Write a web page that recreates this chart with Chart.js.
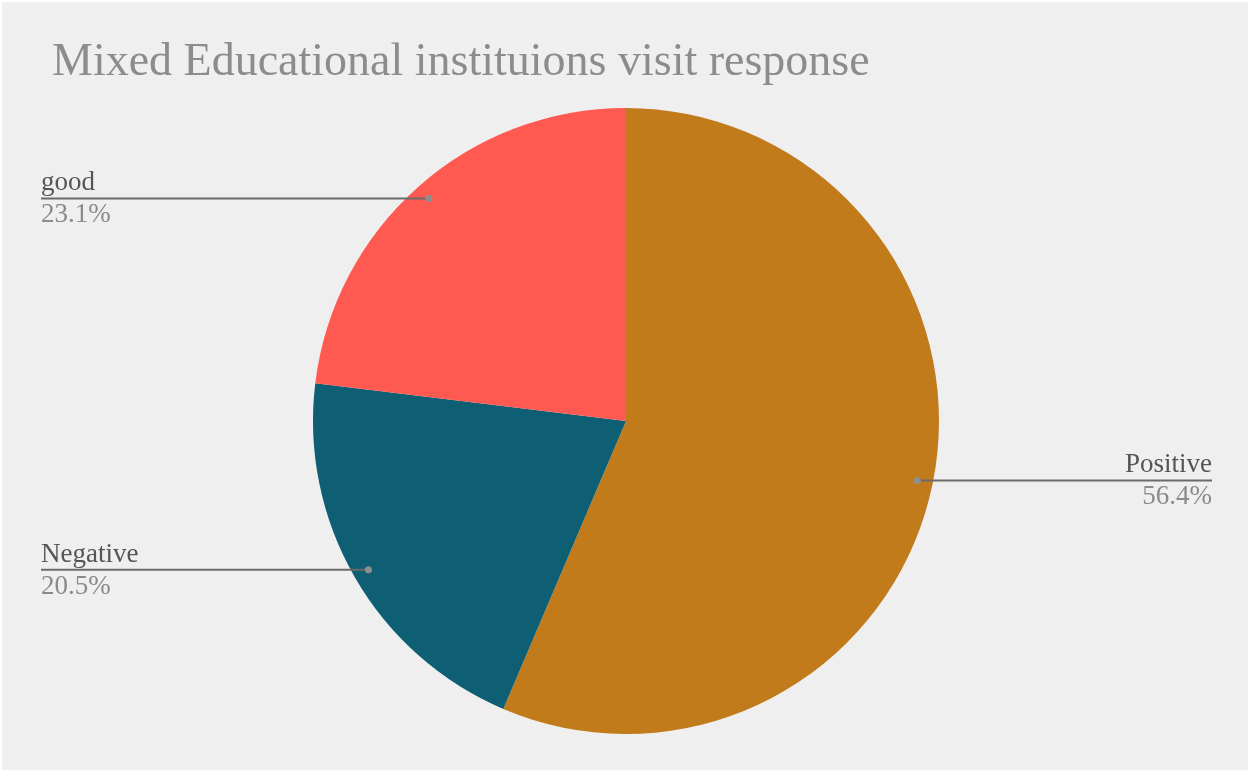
<!DOCTYPE html>
<html>
<head>
<meta charset="utf-8">
<script src="https://cdn.jsdelivr.net/npm/chart.js@4"></script>
<style>
  html, body { margin: 0; padding: 0; background: #ffffff; }
  #wrap { width: 1250px; height: 773px; position: relative; }
</style>
</head>
<body>
<div id="wrap"><canvas id="myChart" width="1250" height="773"></canvas></div>
<script>
  const chartTitle = 'Mixed Educational instituions visit response';
  const labels = ['Positive', 'Negative', 'good'];
  const counts = [22, 8, 9];
  const colors = ['#c27b1b', '#0e5f73', '#fe5a52'];

  const total = counts.reduce((a, b) => a + b, 0);

  // background, title and the leader-line labels
  const decor = {
    id: 'decor',
    beforeDraw(chart) {
      const c = chart.ctx;
      c.save();
      c.fillStyle = '#efefef';
      c.fillRect(2, 2, chart.width - 4, chart.height - 5);
      c.fillStyle = '#8c8c8c';
      c.font = '46px "Liberation Serif", serif';
      c.textBaseline = 'alphabetic';
      c.fillText(chartTitle, 52, 75);
      c.restore();
    },
    afterDatasetsDraw(chart) {
      const c = chart.ctx;
      const arcs = chart.getDatasetMeta(0).data;
      c.save();
      arcs.forEach((arc, i) => {
        const mid = (arc.startAngle + arc.endAngle) / 2;
        const r = arc.outerRadius * 0.95;
        const px = arc.x + Math.cos(mid) * r;
        const py = arc.y + Math.sin(mid) * r;
        const right = px > arc.x;
        const endX = right ? 1212 : 41;

        c.strokeStyle = '#6b6b6b';
        c.lineWidth = 2;
        c.beginPath();
        c.moveTo(px, py);
        c.lineTo(endX, py);
        c.stroke();

        c.fillStyle = '#8f8f8f';
        c.beginPath();
        c.arc(px, py, 3.5, 0, Math.PI * 2);
        c.fill();

        c.textAlign = right ? 'right' : 'left';
        c.font = '27px "Liberation Serif", serif';
        c.fillStyle = '#555555';
        c.fillText(labels[i], endX, py - 8);
        c.fillStyle = '#8a8a8a';
        c.fillText((counts[i] / total * 100).toFixed(1) + '%', endX, py + 24);
      });
      c.restore();
    }
  };

  const ctx = document.getElementById('myChart');
  new Chart(ctx, {
    type: 'pie',
    data: {
      labels: labels,
      datasets: [{
        data: counts,
        backgroundColor: colors,
        borderWidth: 0
      }]
    },
    options: {
      responsive: false,
      animation: false,
      layout: { padding: { top: 108, bottom: 39, left: 2, right: 0 } },
      plugins: {
        legend: { display: false },
        tooltip: { enabled: false },
        title: { display: false }
      }
    },
    plugins: [decor]
  });
</script>
</body>
</html>
